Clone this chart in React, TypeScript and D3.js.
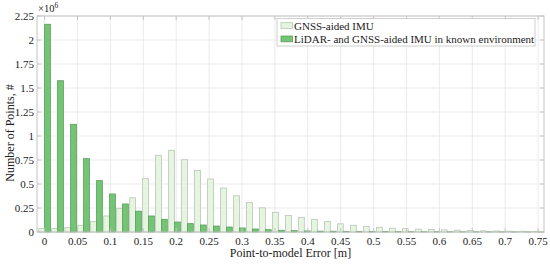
import React from "react";
import * as d3 from "d3";

const binCenters = [
  0.0, 0.0197, 0.0395, 0.0592, 0.0789, 0.0987, 0.1184, 0.1382, 0.1579, 0.1776,
  0.1974, 0.2171, 0.2368, 0.2566, 0.2763, 0.2961, 0.3158, 0.3355, 0.3553, 0.375,
  0.3947, 0.4145, 0.4342, 0.4539, 0.4737, 0.4934, 0.5132, 0.5329, 0.5526, 0.5724,
  0.5921, 0.6118, 0.6316, 0.6513, 0.6711, 0.6908, 0.7105, 0.7303, 0.75,
];

// values in units of 10^6 points
const gnssValues = [
  0.035, 0.035, 0.045, 0.07, 0.11, 0.167, 0.247, 0.357, 0.559, 0.799,
  0.851, 0.753, 0.642, 0.552, 0.458, 0.378, 0.309, 0.252, 0.205, 0.172,
  0.153, 0.132, 0.108, 0.085, 0.07, 0.056, 0.049, 0.04, 0.035, 0.03,
  0.026, 0.022, 0.019, 0.016, 0.013, 0.011, 0.009, 0.008, 0.007,
];

const lidarValues = [
  2.164, 1.576, 1.122, 0.764, 0.535, 0.396, 0.292, 0.217, 0.167, 0.132,
  0.104, 0.087, 0.073, 0.062, 0.052, 0.042, 0.031, 0.024, 0.018, 0.014,
  0.011, 0.009, 0.008, 0.007, 0.006, 0.005, 0.0045, 0.004, 0.0035, 0.003,
  0.003, 0.0025, 0.002, 0.002, 0.0018, 0.0015, 0.0012, 0.001, 0.001,
];

const xTicks = [0, 0.05, 0.1, 0.15, 0.2, 0.25, 0.3, 0.35, 0.4, 0.45, 0.5, 0.55, 0.6, 0.65, 0.7, 0.75];
const yTicks = [0, 0.25, 0.5, 0.75, 1, 1.25, 1.5, 1.75, 2, 2.25];
const seriesNames = ["GNSS-aided IMU", "LiDAR- and GNSS-aided IMU in known environment"];

const W = 550;
const H = 264;
const plotLeft = 37;
const plotRight = 544;
const plotTop = 16;
const plotBottom = 232;
const FONT = "'Liberation Serif', 'Times New Roman', serif";
const lightFill = "#e5f5e0";
const darkFill = "#74c476";
const gridColor = "#ebebeb";
const axisColor = "#c4c4c4";

export default function App() {
  const x = d3.scaleLinear().domain([0, 0.75]).range([44.6, 538.1]);
  const y = d3.scaleLinear().domain([0, 2.25]).range([plotBottom, plotTop]);
  const spacing = binCenters[1] - binCenters[0];
  const barW = x(spacing * 0.45) - x(0);
  const fmt = (v: number) => (v === 0 ? "0" : String(+v.toFixed(2)));

  return (
    <svg width={W} height={H} style={{ position: "absolute", left: 0, top: 0 }} fontFamily={FONT}>
      <rect x={0} y={0} width={W} height={H} fill="#fff" />
      {/* grid */}
      {xTicks.map((t) => (
        <line key={"gx" + t} x1={x(t)} x2={x(t)} y1={plotTop} y2={plotBottom} stroke={gridColor} strokeWidth={1} />
      ))}
      {yTicks.map((t) => (
        <line key={"gy" + t} x1={plotLeft} x2={plotRight} y1={y(t)} y2={y(t)} stroke={gridColor} strokeWidth={1} />
      ))}
      {/* bars */}
      {binCenters.map((c, i) => (
        <g key={"b" + i}>
          <rect
            x={x(c) - barW}
            y={y(gnssValues[i])}
            width={barW}
            height={plotBottom - y(gnssValues[i])}
            fill={lightFill}
            stroke="#b9c6b6"
            strokeWidth={0.8}
          />
          <rect
            x={x(c)}
            y={y(lidarValues[i])}
            width={barW}
            height={plotBottom - y(lidarValues[i])}
            fill={darkFill}
            stroke="#5a9e5c"
            strokeWidth={0.8}
          />
        </g>
      ))}
      {/* axes box */}
      <rect x={plotLeft} y={plotTop} width={plotRight - plotLeft} height={plotBottom - plotTop} fill="none" stroke={axisColor} strokeWidth={1} />
      {xTicks.map((t) => (
        <g key={"tx" + t}>
          <line x1={x(t)} x2={x(t)} y1={plotBottom} y2={plotBottom - 4} stroke={axisColor} />
          <line x1={x(t)} x2={x(t)} y1={plotTop} y2={plotTop + 4} stroke={axisColor} />
          <text x={x(t)} y={245} fontSize={11} textAnchor="middle" fill="#222">
            {fmt(t)}
          </text>
        </g>
      ))}
      {yTicks.map((t) => (
        <g key={"ty" + t}>
          <line x1={plotLeft} x2={plotLeft + 4} y1={y(t)} y2={y(t)} stroke={axisColor} />
          <line x1={plotRight} x2={plotRight - 4} y1={y(t)} y2={y(t)} stroke={axisColor} />
          <text x={34} y={y(t) + 3.8} fontSize={11} textAnchor="end" fill="#222">
            {fmt(t)}
          </text>
        </g>
      ))}
      {/* exponent */}
      <text x={38} y={12} fontSize={10.5} fill="#222">
        ×10
        <tspan dy={-4} fontSize={7.5}>6</tspan>
      </text>
      {/* axis labels */}
      <text x={290.5} y={257} fontSize={12} textAnchor="middle" fill="#222">
        Point-to-model Error [m]
      </text>
      <text transform={`translate(14,133) rotate(-90)`} fontSize={12} textAnchor="middle" fill="#222">
        Number of Points, #
      </text>
      {/* legend */}
      <rect x={277} y={18.5} width={258} height={27.5} fill="#fff" stroke="#cfcfcf" strokeWidth={1} />
      <rect x={281} y={22.7} width={11.5} height={5.8} fill={lightFill} stroke="#b9c6b6" strokeWidth={0.8} />
      <rect x={281} y={36} width={11.5} height={5.8} fill={darkFill} stroke="#5a9e5c" strokeWidth={0.8} />
      <text x={294} y={29.5} fontSize={11} fill="#222">{seriesNames[0]}</text>
      <text x={294} y={43} fontSize={11} fill="#222">{seriesNames[1]}</text>
    </svg>
  );
}
